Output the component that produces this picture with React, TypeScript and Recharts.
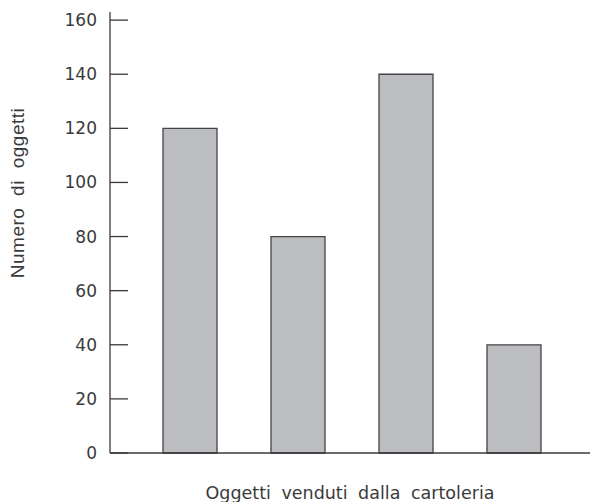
import { Bar, BarChart, XAxis, YAxis } from "recharts";

const categories = ["A", "B", "C", "D"];
const values = [120, 80, 140, 40];
const yTicks = [0, 20, 40, 60, 80, 100, 120, 140, 160];

const data = categories.map((c, i) => ({ name: c, value: values[i] }));

const FONT = "'DejaVu Sans', Verdana, sans-serif";
const INK = "#3a3a3a";

function YTitle() {
  const cx = 17;
  const cy = 193;
  return (
    <text
      x={cx}
      y={cy}
      transform={`rotate(-90 ${cx} ${cy})`}
      textAnchor="middle"
      dominantBaseline="central"
      fontFamily="'Liberation Sans', Arial, sans-serif"
      fontSize={19}
      fill={INK}
      style={{ wordSpacing: 6, letterSpacing: 0.5 }}
    >
      Numero di oggetti
    </text>
  );
}

function XTitle({ viewBox }: any) {
  const cx = viewBox.x + viewBox.width / 2;
  return (
    <text
      x={cx}
      y={493}
      textAnchor="middle"
      dominantBaseline="central"
      fontFamily={FONT}
      fontSize={17.5}
      fill={INK}
      style={{ wordSpacing: 5 }}
    >
      Oggetti venduti dalla cartoleria
    </text>
  );
}

export default function App() {
  return (
    <div style={{ position: "absolute", left: 0, top: 0, background: "#fff" }}>
      <BarChart
        width={594}
        height={502}
        data={data}
        margin={{ top: 12, right: 4, left: 0, bottom: 0 }}
      >
        <XAxis
          dataKey="name"
          tick={false}
          tickLine={false}
          height={49}
          padding={{ left: 26, right: 22 }}
          axisLine={{ stroke: INK, strokeWidth: 1.3 }}
          label={<XTitle />}
        />
        <YAxis
          width={110}
          domain={[0, 163]}
          ticks={yTicks}
          interval={0}
          tickSize={-18}
          tickMargin={31}
          tickLine={{ stroke: INK, strokeWidth: 1.3 }}
          axisLine={{ stroke: INK, strokeWidth: 1.3 }}
          tick={{ fill: INK, fontSize: 17, fontFamily: FONT }}
          label={<YTitle />}
        />
        <Bar
          dataKey="value"
          fill="#bcbdc0"
          stroke="#444"
          strokeWidth={1.3}
          barSize={54}
          isAnimationActive={false}
        />
      </BarChart>
    </div>
  );
}
